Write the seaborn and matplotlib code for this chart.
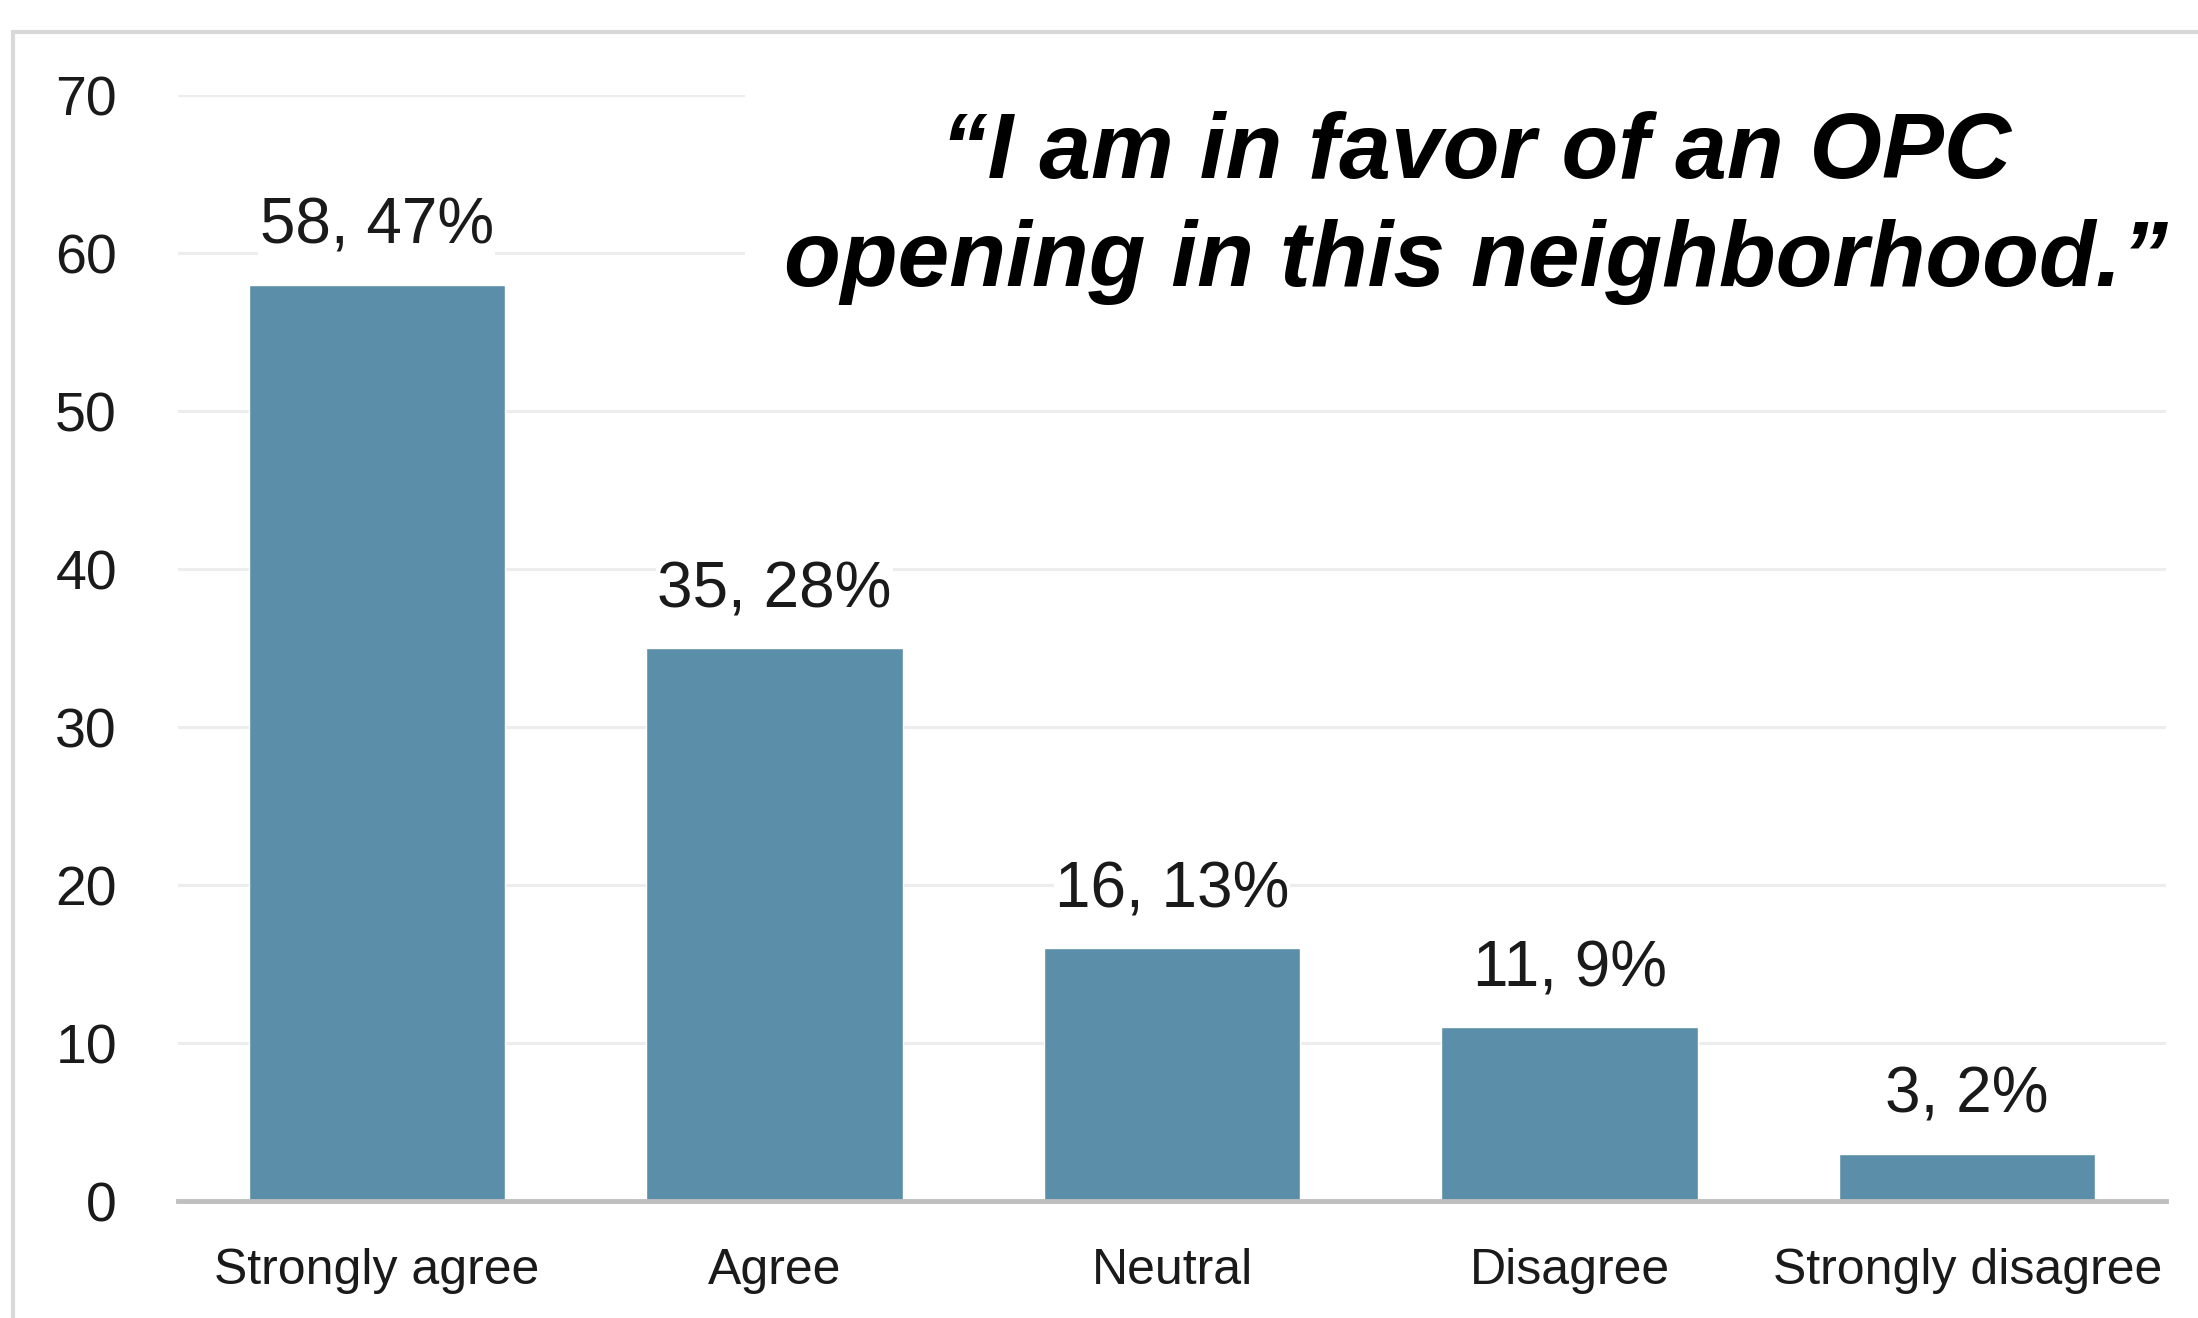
import matplotlib
matplotlib.use("Agg")
import matplotlib.pyplot as plt
import seaborn as sns
import pandas as pd
from matplotlib.patches import Rectangle

categories = ["Strongly agree", "Agree", "Neutral", "Disagree", "Strongly disagree"]
counts = [58, 35, 16, 11, 3]
percents = [47, 28, 13, 9, 2]
yticks = [0, 10, 20, 30, 40, 50, 60, 70]
title_text = "\u201cI am in favor of an OPC\nopening in this neighborhood.\u201d"

sns.set_theme(style="white")
narrow = ["Liberation Sans Narrow", "Liberation Sans", "DejaVu Sans"]
plt.rcParams["font.family"] = narrow

df = pd.DataFrame({"category": categories, "count": counts})

fig = plt.figure(figsize=(21.98, 13.18), dpi=100)
fig.patch.set_facecolor("white")

# outer frame
fig.patches.append(Rectangle((13 / 2198, -0.01), 1.05, (1318 - 32) / 1318 + 0.01,
                             transform=fig.transFigure, fill=False,
                             edgecolor="#d9d9d9", linewidth=3, zorder=0))

ax = fig.add_axes([178 / 2198, (1318 - 1201) / 1318, (2166 - 178) / 2198, (1201 - 95) / 1318])
sns.barplot(data=df, x="category", y="count", order=categories, color="#5b8ea8",
            saturation=1, width=0.645, ax=ax, zorder=3)

ax.set_xlim(-0.5, len(categories) - 0.5)
ax.set_ylim(0, 70)
ax.set_yticks(yticks)
ax.set_yticklabels([str(t) for t in yticks])
ax.yaxis.grid(True, color="#ededed", linewidth=2.2, zorder=0)
ax.set_axisbelow(True)
for s in ["top", "right", "left"]:
    ax.spines[s].set_visible(False)
ax.spines["bottom"].set_color("#bfbfbf")
ax.spines["bottom"].set_linewidth(3.5)
ax.spines["bottom"].set_zorder(4)
ax.set_xlabel("")
ax.set_ylabel("")
ax.tick_params(axis="y", length=0, pad=44, labelsize=40, labelcolor="#1a1a1a")
ax.tick_params(axis="x", length=0, pad=34, labelsize=36, labelcolor="#1a1a1a")

labels = [f"{c}, {p}%" for c, p in zip(counts, percents)]
bl = ax.bar_label(ax.containers[0], labels=labels, padding=20, fontsize=46, color="#1a1a1a")
for t in bl:
    t.set_bbox(dict(facecolor="white", edgecolor="none", pad=1))
    t.set_zorder(5)

fig.text(1476 / 2198, 1 - 208 / 1318, title_text, ha="center", va="center",
         fontsize=67, fontweight="bold", fontstyle="italic",
         family=["Liberation Sans", "DejaVu Sans"], color="black",
         linespacing=1.32, zorder=10,
         bbox=dict(facecolor="white", edgecolor="none", pad=28))

fig.savefig("out.png", dpi=100, facecolor="white")
